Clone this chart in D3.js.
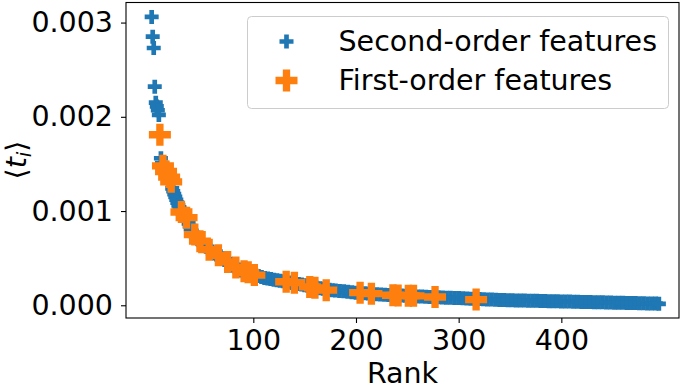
<!DOCTYPE html>
<html>
<head>
<meta charset="utf-8">
<script src="https://cdn.jsdelivr.net/npm/d3@7"></script>
<style>
  html, body { margin: 0; padding: 0; background: #fff; }
  #chart { width: 685px; height: 384px; }
  text { font-family: "DejaVu Sans", sans-serif; }
</style>
</head>
<body>
<div id="chart"></div>
<script>
// rank, <t_i> of the second-order features
const secondOrder = [
  [1, 0.00306], [2, 0.00285], [3, 0.00273], [4, 0.00232], [5, 0.00215], [6, 0.00211],
  [7, 0.00207], [8, 0.00202], [10, 0.00156], [11, 0.00151], [13, 0.00146], [14, 0.00143],
  [16, 0.00139], [18, 0.00134], [19, 0.00131], [21, 0.00124], [22, 0.00121], [23, 0.00118],
  [24, 0.00115], [25, 0.00112], [26, 0.00109], [27, 0.00106], [28, 0.00104], [29, 0.00102],
  [31, 0.00098], [32, 0.00096], [33, 0.00094], [34, 0.00092], [35, 0.00090], [37, 0.00087],
  [38, 0.00084], [39, 0.00081], [40, 0.00079], [41, 0.00077], [42, 0.00076], [44, 0.00073],
  [45, 0.00072], [46, 0.00070], [47, 0.00069], [48, 0.00068], [50, 0.00066], [52, 0.00064],
  [54, 0.00062], [56, 0.00060], [58, 0.00058], [60, 0.00057], [62, 0.00055], [64, 0.00054],
  [66, 0.00053], [68, 0.00052], [70, 0.00050], [72, 0.00048], [74, 0.00047], [76, 0.00045],
  [78, 0.00044], [80, 0.00042], [82, 0.00041], [84, 0.00039], [86, 0.00038], [88, 0.00037],
  [90, 0.00036], [93, 0.00035], [96, 0.00034], [99, 0.00033], [102, 0.00032], [105, 0.00031],
  [108, 0.00030], [111, 0.00029], [114, 0.000285], [117, 0.000278], [120, 0.00027],
  [123, 0.000265], [126, 0.00026], [129, 0.000255], [132, 0.00025], [135, 0.000243],
  [138, 0.000237], [141, 0.000232], [144, 0.000226], [147, 0.00022], [150, 0.000213],
  [153, 0.000207], [156, 0.0002], [159, 0.000193], [162, 0.000187], [165, 0.00018],
  [168, 0.000175], [171, 0.00017], [174, 0.000165], [177, 0.00016], [180, 0.000156],
  [184, 0.000152], [188, 0.000148], [192, 0.000143], [196, 0.000138], [200, 0.000134],
  [204, 0.00013], [208, 0.000127], [212, 0.000124], [216, 0.000121], [220, 0.000118],
  [224, 0.000115], [228, 0.000112], [232, 0.00011], [236, 0.000107], [240, 0.000105],
  [244, 0.000103], [248, 0.0001], [252, 0.000098], [256, 0.000096], [260, 0.000094],
  [264, 0.000092], [268, 0.00009], [272, 0.000088], [276, 0.000086], [280, 0.000085],
  [284, 0.000083], [288, 0.000081], [292, 0.00008], [296, 0.000078], [300, 0.000076],
  [304, 0.000074], [308, 0.000072], [312, 0.00007], [316, 0.000068], [320, 0.000066],
  [324, 0.000064], [328, 0.000062], [332, 0.00006], [336, 0.000058], [340, 0.000056],
  [344, 0.000055], [348, 0.000054], [352, 0.000053], [356, 0.000052], [360, 0.000051],
  [364, 0.00005], [368, 0.000049], [372, 0.000048], [376, 0.000047], [380, 0.000046],
  [384, 0.000045], [388, 0.000044], [392, 0.000043], [396, 0.000042], [400, 0.000041],
  [404, 0.00004], [408, 0.000039], [412, 0.000038], [416, 0.000037], [420, 0.000036],
  [424, 0.000035], [428, 0.000034], [432, 0.000033], [436, 0.000032], [440, 0.000031],
  [444, 0.00003], [448, 0.000029], [452, 0.000028], [456, 0.000027], [460, 0.000026],
  [464, 0.000025], [468, 0.000024], [472, 0.000023], [476, 0.000022], [480, 0.000021],
  [484, 0.00002], [488, 0.000019], [492, 0.000018], [495, 0.000015]
];

// rank, <t_i> of the first-order features
const firstOrder = [
  [9, 0.00181], [12, 0.00148], [15, 0.00142], [18, 0.00136], [20, 0.00131],
  [30, 0.00099], [35, 0.00093], [43, 0.00075], [48, 0.00068], [57, 0.00059],
  [66, 0.00053], [75, 0.00046], [83, 0.00040], [91, 0.00036], [95, 0.00035],
  [101, 0.00032], [132, 0.00025], [140, 0.00024], [155, 0.000195], [160, 0.000185],
  [171, 0.00016], [204, 0.000134], [215, 0.000123], [236, 0.000106], [241, 0.000105],
  [251, 0.000102], [256, 0.0001], [277, 0.000088], [317, 0.00006]
];

const seriesNames = ["Second-order features", "First-order features"];
const seriesColors = ["#1f77b4", "#ff7f0e"];

const xTicks = [100, 200, 300, 400];
const yTicks = [0, 0.001, 0.002, 0.003];
const xLimits = [-24, 514.6];
const yLimits = [-0.000135, 0.003213];

const width = 685, height = 384;
const margins = { top: 2.5, right: 6, bottom: 66, left: 126 };
const fontSize = 28.5;

const svg = d3.select("#chart").append("svg")
  .attr("width", width)
  .attr("height", height);

const xScale = d3.scaleLinear()
  .domain(xLimits)
  .range([margins.left, width - margins.right]);

const yScale = d3.scaleLinear()
  .domain(yLimits)
  .range([height - margins.bottom, margins.top]);

// marker sizes: filled plus, total width w -> d3 cross area 20*(w/6)^2
const crossArea = w => 20 * Math.pow(w / 6, 2);
const blueCross = d3.symbol(d3.symbolCross, crossArea(14));
const orangeCross = d3.symbol(d3.symbolCross, crossArea(22));

// points
svg.append("g")
  .selectAll("path")
  .data(secondOrder)
  .join("path")
  .attr("d", blueCross)
  .attr("transform", d => `translate(${xScale(d[0])},${yScale(d[1])})`)
  .attr("fill", seriesColors[0]);

svg.append("g")
  .selectAll("path")
  .data(firstOrder)
  .join("path")
  .attr("d", orangeCross)
  .attr("transform", d => `translate(${xScale(d[0])},${yScale(d[1])})`)
  .attr("fill", seriesColors[1]);

// axes
const xAxis = svg.append("g")
  .attr("transform", `translate(0, ${height - margins.bottom})`)
  .call(d3.axisBottom(xScale).tickValues(xTicks).tickSize(5).tickPadding(7));

const yAxis = svg.append("g")
  .attr("transform", `translate(${margins.left}, 0)`)
  .call(d3.axisLeft(yScale).tickValues(yTicks).tickFormat(d3.format(".3f")).tickSize(5).tickPadding(8));

[xAxis, yAxis].forEach(ax => {
  ax.select(".domain").remove();
  ax.selectAll("text")
    .attr("font-family", "DejaVu Sans")
    .attr("font-size", fontSize)
    .attr("fill", "#000");
  ax.selectAll("line").attr("stroke", "#000").attr("stroke-width", 1.1);
});

// spines
svg.append("rect")
  .attr("x", margins.left)
  .attr("y", margins.top)
  .attr("width", width - margins.right - margins.left)
  .attr("height", height - margins.bottom - margins.top)
  .attr("fill", "none")
  .attr("stroke", "#000")
  .attr("stroke-width", 1.1);

// axis labels
svg.append("text")
  .attr("x", (margins.left + width - margins.right) / 2)
  .attr("y", 383)
  .attr("text-anchor", "middle")
  .attr("font-size", fontSize)
  .text("Rank");

const ylab = svg.append("text")
  .attr("transform", `translate(26, 160) rotate(-90)`)
  .attr("text-anchor", "middle")
  .attr("font-size", fontSize);
ylab.append("tspan").text("\u27E8");
ylab.append("tspan").attr("font-style", "italic").text("t");
ylab.append("tspan").attr("font-style", "italic").attr("font-size", fontSize * 0.7).attr("dy", 5).text("i");
ylab.append("tspan").attr("dy", -5).text("\u27E9");

// legend
const legend = svg.append("g");
legend.append("rect")
  .attr("x", 247.5)
  .attr("y", 16.5)
  .attr("width", 421)
  .attr("height", 92)
  .attr("rx", 4)
  .attr("fill", "#fff")
  .attr("fill-opacity", 0.8)
  .attr("stroke", "#cccccc")
  .attr("stroke-width", 1);

const legendRows = [
  { name: seriesNames[0], color: seriesColors[0], shape: blueCross, y: 41.5 },
  { name: seriesNames[1], color: seriesColors[1], shape: orangeCross, y: 80.5 }
];

legendRows.forEach(r => {
  legend.append("path")
    .attr("d", r.shape)
    .attr("transform", `translate(286.5, ${r.y})`)
    .attr("fill", r.color);
  legend.append("text")
    .attr("x", 338.5)
    .attr("y", r.y + 9.5)
    .attr("font-size", fontSize)
    .text(r.name);
});
</script>
</body>
</html>
